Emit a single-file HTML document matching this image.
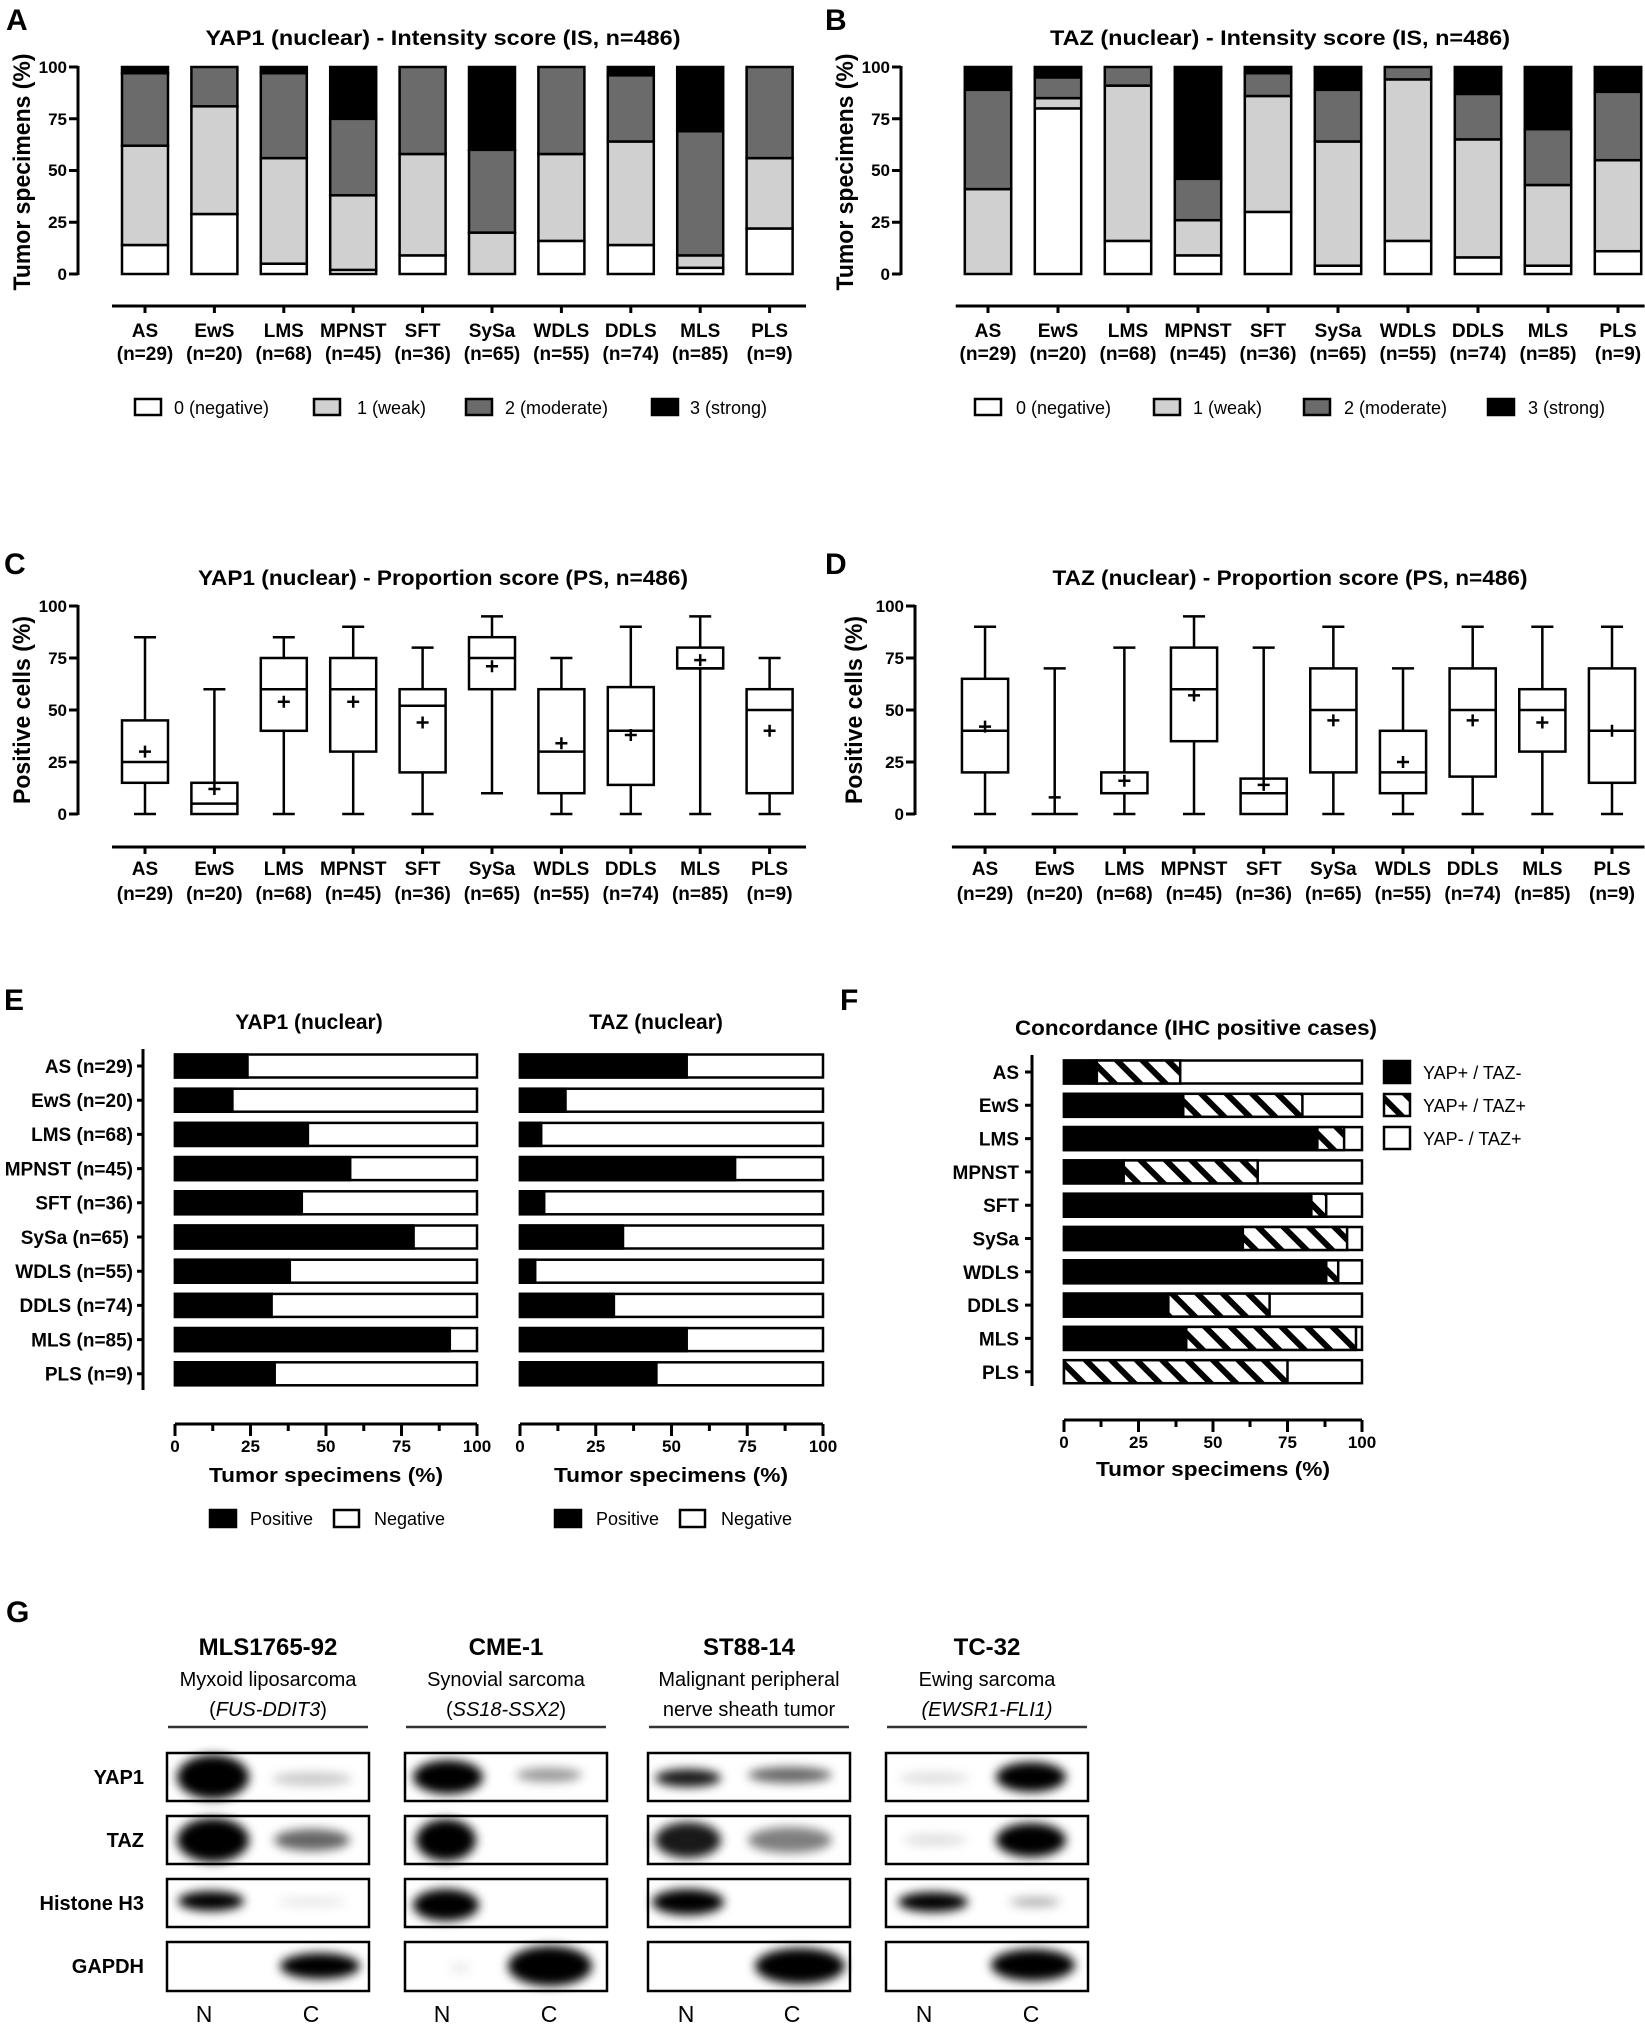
<!DOCTYPE html>
<html><head><meta charset="utf-8"><style>
html,body{margin:0;padding:0;background:#fff}
svg{display:block}
text{font-family:"Liberation Sans",Arial,sans-serif;fill:#000}
.b{font-weight:bold}
.t{font-weight:bold;font-size:21px}
.tk{font-weight:bold;font-size:17px}
.cl{font-weight:bold;font-size:19px;text-anchor:middle}
.lg{font-size:18px}
.ax{stroke:#000;stroke-width:3;fill:none}
.bx rect{stroke:#000;stroke-width:2.5}
.bp path,.bp rect,.bp line{stroke:#000;stroke-width:2.5;fill:none}
.bp rect{fill:#fff}
.w{fill:#fff}.l{fill:#d0d0d0}.d{fill:#6b6b6b}.k{fill:#000}
</style></head><body>
<svg width="1645" height="2029" viewBox="0 0 1645 2029" xmlns="http://www.w3.org/2000/svg">
<defs>
<pattern id="h" patternUnits="userSpaceOnUse" width="18" height="18" patternTransform="rotate(-45)"><rect width="18" height="18" fill="#fff"/><line x1="4" y1="0" x2="4" y2="18" stroke="#000" stroke-width="6"/></pattern>
<filter id="bl" x="-50%" y="-50%" width="200%" height="200%"><feGaussianBlur stdDeviation="5"/></filter>
</defs>

<text x="6" y="30" class="b" font-size="30">A</text>
<text x="825" y="30" class="b" font-size="30">B</text>
<text x="4" y="574" class="b" font-size="30">C</text>
<text x="825" y="574" class="b" font-size="30">D</text>
<text x="4" y="1010" class="b" font-size="30">E</text>
<text x="840" y="1010" class="b" font-size="30">F</text>
<text x="6" y="1622" class="b" font-size="30">G</text>

<!-- ===== Panel A ===== -->
<text x="443" y="45" class="t" text-anchor="middle" textLength="475" lengthAdjust="spacingAndGlyphs">YAP1 (nuclear) - Intensity score (IS, n=486)</text>
<text transform="translate(30,172) rotate(-90)" class="b" font-size="24" text-anchor="middle" textLength="237" lengthAdjust="spacingAndGlyphs">Tumor specimens (%)</text>
<path class="ax" d="M78 66V275M69 274H78M69 222.3H78M69 170.5H78M69 118.8H78M69 67H78"/>
<g class="tk" text-anchor="end"><text x="67" y="280">0</text><text x="67" y="228">25</text><text x="67" y="176">50</text><text x="67" y="125">75</text><text x="67" y="73">100</text></g>
<g class="bx">
<rect class="w" x="122" y="245" width="46" height="29"/><rect class="l" x="122" y="145.7" width="46" height="99.3"/><rect class="d" x="122" y="73.2" width="46" height="72.5"/><rect class="k" x="122" y="67" width="46" height="6.2"/>
<rect class="w" x="191.4" y="214" width="46" height="60"/><rect class="l" x="191.4" y="106.3" width="46" height="107.7"/><rect class="d" x="191.4" y="67" width="46" height="39.3"/>
<rect class="w" x="260.8" y="263.7" width="46" height="10.3"/><rect class="l" x="260.8" y="158.1" width="46" height="105.6"/><rect class="d" x="260.8" y="73.2" width="46" height="84.9"/><rect class="k" x="260.8" y="67" width="46" height="6.2"/>
<rect class="w" x="330.2" y="269.9" width="46" height="4.1"/><rect class="l" x="330.2" y="195.3" width="46" height="74.6"/><rect class="d" x="330.2" y="118.8" width="46" height="76.5"/><rect class="k" x="330.2" y="67" width="46" height="51.8"/>
<rect class="w" x="399.6" y="255.4" width="46" height="18.6"/><rect class="l" x="399.6" y="154" width="46" height="101.4"/><rect class="d" x="399.6" y="67" width="46" height="87"/>
<rect class="l" x="469" y="232.6" width="46" height="41.4"/><rect class="d" x="469" y="149.8" width="46" height="82.8"/><rect class="k" x="469" y="67" width="46" height="82.8"/>
<rect class="w" x="538.4" y="240.9" width="46" height="33.1"/><rect class="l" x="538.4" y="154" width="46" height="86.9"/><rect class="d" x="538.4" y="67" width="46" height="87"/>
<rect class="w" x="607.8" y="245" width="46" height="29"/><rect class="l" x="607.8" y="141.5" width="46" height="103.5"/><rect class="d" x="607.8" y="75.3" width="46" height="66.2"/><rect class="k" x="607.8" y="67" width="46" height="8.3"/>
<rect class="w" x="677.2" y="267.8" width="46" height="6.2"/><rect class="l" x="677.2" y="255.4" width="46" height="12.4"/><rect class="d" x="677.2" y="131.2" width="46" height="124.2"/><rect class="k" x="677.2" y="67" width="46" height="64.2"/>
<rect class="w" x="746.6" y="228.5" width="46" height="45.5"/><rect class="l" x="746.6" y="158.1" width="46" height="70.4"/><rect class="d" x="746.6" y="67" width="46" height="91.1"/>
</g>
<path class="ax" d="M112 306H806M145 306V313M214.4 306V313M283.8 306V313M353.2 306V313M422.6 306V313M492 306V313M561.4 306V313M630.8 306V313M700.2 306V313M769.6 306V313"/>
<g class="cl">
<text x="145" y="337">AS</text><text x="214.4" y="337">EwS</text><text x="283.8" y="337">LMS</text><text x="353.2" y="337">MPNST</text><text x="422.6" y="337">SFT</text><text x="492" y="337">SySa</text><text x="561.4" y="337">WDLS</text><text x="630.8" y="337">DDLS</text><text x="700.2" y="337">MLS</text><text x="769.6" y="337">PLS</text>
<text x="145" y="360">(n=29)</text><text x="214.4" y="360">(n=20)</text><text x="283.8" y="360">(n=68)</text><text x="353.2" y="360">(n=45)</text><text x="422.6" y="360">(n=36)</text><text x="492" y="360">(n=65)</text><text x="561.4" y="360">(n=55)</text><text x="630.8" y="360">(n=74)</text><text x="700.2" y="360">(n=85)</text><text x="769.6" y="360">(n=9)</text>
</g>
<g class="bx"><rect class="w" x="135" y="399" width="26" height="16"/><rect class="l" x="314" y="399" width="26" height="16"/><rect class="d" x="466" y="399" width="26" height="16"/><rect class="k" x="652" y="399" width="26" height="16"/></g>
<g class="lg"><text x="174" y="414">0 (negative)</text><text x="357" y="414">1 (weak)</text><text x="505" y="414">2 (moderate)</text><text x="690" y="414">3 (strong)</text></g>

<!-- ===== Panel B ===== -->
<text x="1280" y="45" class="t" text-anchor="middle" textLength="460" lengthAdjust="spacingAndGlyphs">TAZ (nuclear) - Intensity score (IS, n=486)</text>
<text transform="translate(853,172) rotate(-90)" class="b" font-size="24" text-anchor="middle" textLength="237" lengthAdjust="spacingAndGlyphs">Tumor specimens (%)</text>
<path class="ax" d="M901 66V275M892 274H901M892 222.3H901M892 170.5H901M892 118.8H901M892 67H901"/>
<g class="tk" text-anchor="end"><text x="890" y="280">0</text><text x="890" y="228">25</text><text x="890" y="176">50</text><text x="890" y="125">75</text><text x="890" y="73">100</text></g>
<g transform="matrix(1.00865,0,0,1,-3.5,0)">
<g class="bx">
<rect class="l" x="960" y="189.1" width="46" height="84.9"/><rect class="d" x="960" y="89.8" width="46" height="99.3"/><rect class="k" x="960" y="67" width="46" height="22.8"/>
<rect class="w" x="1029.4" y="108.4" width="46" height="165.6"/><rect class="l" x="1029.4" y="98.1" width="46" height="10.3"/><rect class="d" x="1029.4" y="77.4" width="46" height="20.7"/><rect class="k" x="1029.4" y="67" width="46" height="10.4"/>
<rect class="w" x="1098.8" y="240.9" width="46" height="33.1"/><rect class="l" x="1098.8" y="85.6" width="46" height="155.3"/><rect class="d" x="1098.8" y="67" width="46" height="18.6"/>
<rect class="w" x="1168.2" y="255.4" width="46" height="18.6"/><rect class="l" x="1168.2" y="220.2" width="46" height="35.2"/><rect class="d" x="1168.2" y="178.8" width="46" height="41.4"/><rect class="k" x="1168.2" y="67" width="46" height="111.8"/>
<rect class="w" x="1237.6" y="211.9" width="46" height="62.1"/><rect class="l" x="1237.6" y="96" width="46" height="115.9"/><rect class="d" x="1237.6" y="73.2" width="46" height="22.8"/><rect class="k" x="1237.6" y="67" width="46" height="6.2"/>
<rect class="w" x="1307" y="265.7" width="46" height="8.3"/><rect class="l" x="1307" y="141.5" width="46" height="124.2"/><rect class="d" x="1307" y="89.8" width="46" height="51.7"/><rect class="k" x="1307" y="67" width="46" height="22.8"/>
<rect class="w" x="1376.4" y="240.9" width="46" height="33.1"/><rect class="l" x="1376.4" y="79.4" width="46" height="161.5"/><rect class="d" x="1376.4" y="67" width="46" height="12.4"/>
<rect class="w" x="1445.8" y="257.4" width="46" height="16.6"/><rect class="l" x="1445.8" y="139.4" width="46" height="118"/><rect class="d" x="1445.8" y="93.9" width="46" height="45.5"/><rect class="k" x="1445.8" y="67" width="46" height="26.9"/>
<rect class="w" x="1515.2" y="265.7" width="46" height="8.3"/><rect class="l" x="1515.2" y="185" width="46" height="80.7"/><rect class="d" x="1515.2" y="129.1" width="46" height="55.9"/><rect class="k" x="1515.2" y="67" width="46" height="62.1"/>
<rect class="w" x="1584.6" y="251.2" width="46" height="22.8"/><rect class="l" x="1584.6" y="160.2" width="46" height="91"/><rect class="d" x="1584.6" y="91.8" width="46" height="68.4"/><rect class="k" x="1584.6" y="67" width="46" height="24.8"/>
</g>
<path class="ax" d="M951 306H1634M983 306V313M1052.4 306V313M1121.8 306V313M1191.2 306V313M1260.6 306V313M1330 306V313M1399.4 306V313M1468.8 306V313M1538.2 306V313M1607.6 306V313"/>
<g class="cl">
<text x="983" y="337">AS</text><text x="1052.4" y="337">EwS</text><text x="1121.8" y="337">LMS</text><text x="1191.2" y="337">MPNST</text><text x="1260.6" y="337">SFT</text><text x="1330" y="337">SySa</text><text x="1399.4" y="337">WDLS</text><text x="1468.8" y="337">DDLS</text><text x="1538.2" y="337">MLS</text><text x="1607.6" y="337">PLS</text>
<text x="983" y="360">(n=29)</text><text x="1052.4" y="360">(n=20)</text><text x="1121.8" y="360">(n=68)</text><text x="1191.2" y="360">(n=45)</text><text x="1260.6" y="360">(n=36)</text><text x="1330" y="360">(n=65)</text><text x="1399.4" y="360">(n=55)</text><text x="1468.8" y="360">(n=74)</text><text x="1538.2" y="360">(n=85)</text><text x="1607.6" y="360">(n=9)</text>
</g>
</g>
<g class="bx"><rect class="w" x="975" y="399" width="26" height="16"/><rect class="l" x="1154" y="399" width="26" height="16"/><rect class="d" x="1304" y="399" width="26" height="16"/><rect class="k" x="1488" y="399" width="26" height="16"/></g>
<g class="lg"><text x="1016" y="414">0 (negative)</text><text x="1193" y="414">1 (weak)</text><text x="1344" y="414">2 (moderate)</text><text x="1528" y="414">3 (strong)</text></g>

<!-- ===== Panel C ===== -->
<text x="443" y="585" class="t" text-anchor="middle" textLength="490" lengthAdjust="spacingAndGlyphs">YAP1 (nuclear) - Proportion score (PS, n=486)</text>
<text transform="translate(30,710) rotate(-90)" class="b" font-size="24" text-anchor="middle" textLength="188" lengthAdjust="spacingAndGlyphs">Positive cells (%)</text>
<path class="ax" d="M78 605V815M69 814H78M69 762H78M69 710H78M69 658H78M69 606H78"/>
<g class="tk" text-anchor="end"><text x="67" y="820">0</text><text x="67" y="768">25</text><text x="67" y="716">50</text><text x="67" y="664">75</text><text x="67" y="612">100</text></g>
<g class="bp">
<path d="M145 814V782.8M145 720.4V637.2M134 814H156M134 637.2H156"/><rect x="122" y="720.4" width="46" height="62.4"/><path d="M122 762H168M139 751.6H151M145 745.6V757.6"/>
<path d="M214.4 782.8V689.2M203.4 689.2H225.4"/><rect x="191.4" y="782.8" width="46" height="31.2"/><path d="M191.4 803.6H237.4M208.4 789H220.4M214.4 783V795"/>
<path d="M283.8 814V730.8M283.8 658V637.2M272.8 814H294.8M272.8 637.2H294.8"/><rect x="260.8" y="658" width="46" height="72.8"/><path d="M260.8 689.2H306.8M277.8 701.7H289.8M283.8 695.7V707.7"/>
<path d="M353.2 814V751.6M353.2 658V626.8M342.2 814H364.2M342.2 626.8H364.2"/><rect x="330.2" y="658" width="46" height="93.6"/><path d="M330.2 689.2H376.2M347.2 701.7H359.2M353.2 695.7V707.7"/>
<path d="M422.6 814V772.4M422.6 689.2V647.6M411.6 814H433.6M411.6 647.6H433.6"/><rect x="399.6" y="689.2" width="46" height="83.2"/><path d="M399.6 705.8H445.6M416.6 722.5H428.6M422.6 716.5V728.5"/>
<path d="M492 793.2V689.2M492 637.2V616.4M481 793.2H503M481 616.4H503"/><rect x="469" y="637.2" width="46" height="52"/><path d="M469 658H515M486 666.3H498M492 660.3V672.3"/>
<path d="M561.4 814V793.2M561.4 689.2V658M550.4 814H572.4M550.4 658H572.4"/><rect x="538.4" y="689.2" width="46" height="104"/><path d="M538.4 751.6H584.4M555.4 743.3H567.4M561.4 737.3V749.3"/>
<path d="M630.8 814V784.9M630.8 687.1V626.8M619.8 814H641.8M619.8 626.8H641.8"/><rect x="607.8" y="687.1" width="46" height="97.8"/><path d="M607.8 730.8H653.8M624.8 735H636.8M630.8 729V741"/>
<path d="M700.2 814V668.4M700.2 647.6V616.4M689.2 814H711.2M689.2 616.4H711.2"/><rect x="677.2" y="647.6" width="46" height="20.8"/><path d="M677.2 668.4H723.2M694.2 660.1H706.2M700.2 654.1V666.1"/>
<path d="M769.6 814V793.2M769.6 689.2V658M758.6 814H780.6M758.6 658H780.6"/><rect x="746.6" y="689.2" width="46" height="104"/><path d="M746.6 710H792.6M763.6 730.8H775.6M769.6 724.8V736.8"/>
</g>
<path class="ax" d="M112 847H806M145 847V854M214.4 847V854M283.8 847V854M353.2 847V854M422.6 847V854M492 847V854M561.4 847V854M630.8 847V854M700.2 847V854M769.6 847V854"/>
<g class="cl">
<text x="145" y="875">AS</text><text x="214.4" y="875">EwS</text><text x="283.8" y="875">LMS</text><text x="353.2" y="875">MPNST</text><text x="422.6" y="875">SFT</text><text x="492" y="875">SySa</text><text x="561.4" y="875">WDLS</text><text x="630.8" y="875">DDLS</text><text x="700.2" y="875">MLS</text><text x="769.6" y="875">PLS</text>
<text x="145" y="900">(n=29)</text><text x="214.4" y="900">(n=20)</text><text x="283.8" y="900">(n=68)</text><text x="353.2" y="900">(n=45)</text><text x="422.6" y="900">(n=36)</text><text x="492" y="900">(n=65)</text><text x="561.4" y="900">(n=55)</text><text x="630.8" y="900">(n=74)</text><text x="700.2" y="900">(n=85)</text><text x="769.6" y="900">(n=9)</text>
</g>

<!-- ===== Panel D ===== -->
<text x="1290" y="585" class="t" text-anchor="middle" textLength="475" lengthAdjust="spacingAndGlyphs">TAZ (nuclear) - Proportion score (PS, n=486)</text>
<text transform="translate(862,710) rotate(-90)" class="b" font-size="24" text-anchor="middle" textLength="188" lengthAdjust="spacingAndGlyphs">Positive cells (%)</text>
<path class="ax" d="M915 605V815M906 814H915M906 762H915M906 710H915M906 658H915M906 606H915"/>
<g class="tk" text-anchor="end"><text x="904" y="820">0</text><text x="904" y="768">25</text><text x="904" y="716">50</text><text x="904" y="664">75</text><text x="904" y="612">100</text></g>
<g transform="matrix(1.0038,0,0,1,-1.7,0)">
<g class="bp">
<path d="M983 814V772.4M983 678.8V626.8M972 814H994M972 626.8H994"/><rect x="960" y="678.8" width="46" height="93.6"/><path d="M960 730.8H1006M977 726.6H989M983 720.6V732.6"/>
<path d="M1052.4 814V668.4M1041.4 668.4H1063.4M1029.4 814H1075.4M1046.4 797.4H1058.4M1052.4 791.4V803.4"/>
<path d="M1121.8 814V793.2M1121.8 772.4V647.6M1110.8 814H1132.8M1110.8 647.6H1132.8"/><rect x="1098.8" y="772.4" width="46" height="20.8"/><path d="M1098.8 793.2H1144.8M1115.8 780.7H1127.8M1121.8 774.7V786.7"/>
<path d="M1191.2 814V741.2M1191.2 647.6V616.4M1180.2 814H1202.2M1180.2 616.4H1202.2"/><rect x="1168.2" y="647.6" width="46" height="93.6"/><path d="M1168.2 689.2H1214.2M1185.2 695.4H1197.2M1191.2 689.4V701.4"/>
<path d="M1260.6 778.6V647.6M1249.6 647.6H1271.6"/><rect x="1237.6" y="778.6" width="46" height="35.4"/><path d="M1237.6 793.2H1283.6M1254.6 784.9H1266.6M1260.6 778.9V790.9"/>
<path d="M1330 814V772.4M1330 668.4V626.8M1319 814H1341M1319 626.8H1341"/><rect x="1307" y="668.4" width="46" height="104"/><path d="M1307 710H1353M1324 720.4H1336M1330 714.4V726.4"/>
<path d="M1399.4 814V793.2M1399.4 730.8V668.4M1388.4 814H1410.4M1388.4 668.4H1410.4"/><rect x="1376.4" y="730.8" width="46" height="62.4"/><path d="M1376.4 772.4H1422.4M1393.4 762H1405.4M1399.4 756V768"/>
<path d="M1468.8 814V776.6M1468.8 668.4V626.8M1457.8 814H1479.8M1457.8 626.8H1479.8"/><rect x="1445.8" y="668.4" width="46" height="108.2"/><path d="M1445.8 710H1491.8M1462.8 720.4H1474.8M1468.8 714.4V726.4"/>
<path d="M1538.2 814V751.6M1538.2 689.2V626.8M1527.2 814H1549.2M1527.2 626.8H1549.2"/><rect x="1515.2" y="689.2" width="46" height="62.4"/><path d="M1515.2 710H1561.2M1532.2 722.5H1544.2M1538.2 716.5V728.5"/>
<path d="M1607.6 814V782.8M1607.6 668.4V626.8M1596.6 814H1618.6M1596.6 626.8H1618.6"/><rect x="1584.6" y="668.4" width="46" height="114.4"/><path d="M1584.6 730.8H1630.6M1601.6 730.8H1613.6M1607.6 724.8V736.8"/>
</g>
<path class="ax" d="M950 847H1640M983 847V854M1052.4 847V854M1121.8 847V854M1191.2 847V854M1260.6 847V854M1330 847V854M1399.4 847V854M1468.8 847V854M1538.2 847V854M1607.6 847V854"/>
<g class="cl">
<text x="983" y="875">AS</text><text x="1052.4" y="875">EwS</text><text x="1121.8" y="875">LMS</text><text x="1191.2" y="875">MPNST</text><text x="1260.6" y="875">SFT</text><text x="1330" y="875">SySa</text><text x="1399.4" y="875">WDLS</text><text x="1468.8" y="875">DDLS</text><text x="1538.2" y="875">MLS</text><text x="1607.6" y="875">PLS</text>
<text x="983" y="900">(n=29)</text><text x="1052.4" y="900">(n=20)</text><text x="1121.8" y="900">(n=68)</text><text x="1191.2" y="900">(n=45)</text><text x="1260.6" y="900">(n=36)</text><text x="1330" y="900">(n=65)</text><text x="1399.4" y="900">(n=55)</text><text x="1468.8" y="900">(n=74)</text><text x="1538.2" y="900">(n=85)</text><text x="1607.6" y="900">(n=9)</text>
</g>
</g>

<!-- ===== Panel E ===== -->
<text x="309" y="1029" class="t" text-anchor="middle">YAP1 (nuclear)</text>
<text x="656" y="1029" class="t" text-anchor="middle">TAZ (nuclear)</text>
<path class="ax" d="M143 1049V1390M137 1066H143M137 1100.2H143M137 1134.4H143M137 1168.6H143M137 1202.8H143M137 1237H143M137 1271.2H143M137 1305.4H143M137 1339.6H143M137 1373.8H143"/>
<g class="b" font-size="19" text-anchor="end">
<text x="133" y="1073">AS (n=29)</text><text x="133" y="1107">EwS (n=20)</text><text x="133" y="1141">LMS (n=68)</text><text x="133" y="1175.5">MPNST (n=45)</text><text x="133" y="1209.5">SFT (n=36)</text><text x="129" y="1244">SySa (n=65)</text><text x="133" y="1278">WDLS (n=55)</text><text x="133" y="1312">DDLS (n=74)</text><text x="133" y="1346.5">MLS (n=85)</text><text x="133" y="1380.5">PLS (n=9)</text>
</g>
<g class="bx">
<rect class="w" x="175" y="1054.5" width="302" height="23"/><rect class="k" x="175" y="1054.5" width="72.5" height="23"/>
<rect class="w" x="175" y="1088.7" width="302" height="23"/><rect class="k" x="175" y="1088.7" width="57.4" height="23"/>
<rect class="w" x="175" y="1122.9" width="302" height="23"/><rect class="k" x="175" y="1122.9" width="132.9" height="23"/>
<rect class="w" x="175" y="1157.1" width="302" height="23"/><rect class="k" x="175" y="1157.1" width="175.2" height="23"/>
<rect class="w" x="175" y="1191.3" width="302" height="23"/><rect class="k" x="175" y="1191.3" width="126.8" height="23"/>
<rect class="w" x="175" y="1225.5" width="302" height="23"/><rect class="k" x="175" y="1225.5" width="238.6" height="23"/>
<rect class="w" x="175" y="1259.7" width="302" height="23"/><rect class="k" x="175" y="1259.7" width="114.8" height="23"/>
<rect class="w" x="175" y="1293.9" width="302" height="23"/><rect class="k" x="175" y="1293.9" width="96.6" height="23"/>
<rect class="w" x="175" y="1328.1" width="302" height="23"/><rect class="k" x="175" y="1328.1" width="274.8" height="23"/>
<rect class="w" x="175" y="1362.3" width="302" height="23"/><rect class="k" x="175" y="1362.3" width="99.7" height="23"/>
<rect class="w" x="520" y="1054.5" width="303" height="23"/><rect class="k" x="520" y="1054.5" width="166.7" height="23"/>
<rect class="w" x="520" y="1088.7" width="303" height="23"/><rect class="k" x="520" y="1088.7" width="45.5" height="23"/>
<rect class="w" x="520" y="1122.9" width="303" height="23"/><rect class="k" x="520" y="1122.9" width="21.2" height="23"/>
<rect class="w" x="520" y="1157.1" width="303" height="23"/><rect class="k" x="520" y="1157.1" width="215.1" height="23"/>
<rect class="w" x="520" y="1191.3" width="303" height="23"/><rect class="k" x="520" y="1191.3" width="24.2" height="23"/>
<rect class="w" x="520" y="1225.5" width="303" height="23"/><rect class="k" x="520" y="1225.5" width="103" height="23"/>
<rect class="w" x="520" y="1259.7" width="303" height="23"/><rect class="k" x="520" y="1259.7" width="15.2" height="23"/>
<rect class="w" x="520" y="1293.9" width="303" height="23"/><rect class="k" x="520" y="1293.9" width="93.9" height="23"/>
<rect class="w" x="520" y="1328.1" width="303" height="23"/><rect class="k" x="520" y="1328.1" width="166.7" height="23"/>
<rect class="w" x="520" y="1362.3" width="303" height="23"/><rect class="k" x="520" y="1362.3" width="136.4" height="23"/>
</g>
<path class="ax" d="M175 1424H477M175 1424V1436M250.5 1424V1436M326 1424V1436M401.5 1424V1436M477 1424V1436M212.75 1424V1431M288.25 1424V1431M363.75 1424V1431M439.25 1424V1431"/>
<path class="ax" d="M520 1424H823M520 1424V1436M595.75 1424V1436M671.5 1424V1436M747.25 1424V1436M823 1424V1436M557.9 1424V1431M633.6 1424V1431M709.4 1424V1431M785.1 1424V1431"/>
<g class="tk" text-anchor="middle">
<text x="175" y="1452">0</text><text x="250.5" y="1452">25</text><text x="326" y="1452">50</text><text x="401.5" y="1452">75</text><text x="477" y="1452">100</text>
<text x="520" y="1452">0</text><text x="595.75" y="1452">25</text><text x="671.5" y="1452">50</text><text x="747.25" y="1452">75</text><text x="823" y="1452">100</text>
</g>
<text x="326" y="1482" class="b" font-size="20" text-anchor="middle" textLength="234" lengthAdjust="spacingAndGlyphs">Tumor specimens (%)</text>
<text x="671" y="1482" class="b" font-size="20" text-anchor="middle" textLength="234" lengthAdjust="spacingAndGlyphs">Tumor specimens (%)</text>
<g class="bx"><rect class="k" x="210" y="1510" width="26" height="17"/><rect class="w" x="334" y="1510" width="25" height="17"/><rect class="k" x="555" y="1510" width="26" height="17"/><rect class="w" x="680" y="1510" width="25" height="17"/></g>
<g class="lg"><text x="250" y="1525">Positive</text><text x="374" y="1525">Negative</text><text x="596" y="1525">Positive</text><text x="721" y="1525">Negative</text></g>

<!-- ===== Panel F ===== -->
<text x="1196" y="1035" class="t" text-anchor="middle" textLength="362" lengthAdjust="spacingAndGlyphs">Concordance (IHC positive cases)</text>
<path class="ax" d="M1032 1055V1386M1025 1072H1032M1025 1105.3H1032M1025 1138.6H1032M1025 1171.9H1032M1025 1205.2H1032M1025 1238.5H1032M1025 1271.8H1032M1025 1305.1H1032M1025 1338.4H1032M1025 1371.7H1032"/>
<g class="b" font-size="19" text-anchor="end">
<text x="1019" y="1079">AS</text><text x="1019" y="1112">EwS</text><text x="1019" y="1145.5">LMS</text><text x="1019" y="1179">MPNST</text><text x="1019" y="1212">SFT</text><text x="1019" y="1245.5">SySa</text><text x="1019" y="1279">WDLS</text><text x="1019" y="1312">DDLS</text><text x="1019" y="1345.5">MLS</text><text x="1019" y="1379">PLS</text>
</g>
<g class="bx">
<rect class="w" x="1064" y="1060.5" width="298" height="23"/><rect fill="url(#h)" x="1096.8" y="1060.5" width="83.4" height="23"/><rect class="k" x="1064" y="1060.5" width="32.8" height="23"/>
<rect class="w" x="1064" y="1093.8" width="298" height="23"/><rect fill="url(#h)" x="1183.2" y="1093.8" width="119.2" height="23"/><rect class="k" x="1064" y="1093.8" width="119.2" height="23"/>
<rect class="w" x="1064" y="1127.1" width="298" height="23"/><rect fill="url(#h)" x="1317.3" y="1127.1" width="26.8" height="23"/><rect class="k" x="1064" y="1127.1" width="253.3" height="23"/>
<rect class="w" x="1064" y="1160.4" width="298" height="23"/><rect fill="url(#h)" x="1123.6" y="1160.4" width="134.1" height="23"/><rect class="k" x="1064" y="1160.4" width="59.6" height="23"/>
<rect class="w" x="1064" y="1193.7" width="298" height="23"/><rect fill="url(#h)" x="1311.3" y="1193.7" width="14.9" height="23"/><rect class="k" x="1064" y="1193.7" width="247.3" height="23"/>
<rect class="w" x="1064" y="1227" width="298" height="23"/><rect fill="url(#h)" x="1242.8" y="1227" width="104.3" height="23"/><rect class="k" x="1064" y="1227" width="178.8" height="23"/>
<rect class="w" x="1064" y="1260.3" width="298" height="23"/><rect fill="url(#h)" x="1326.2" y="1260.3" width="12" height="23"/><rect class="k" x="1064" y="1260.3" width="262.2" height="23"/>
<rect class="w" x="1064" y="1293.6" width="298" height="23"/><rect fill="url(#h)" x="1168.3" y="1293.6" width="101.3" height="23"/><rect class="k" x="1064" y="1293.6" width="104.3" height="23"/>
<rect class="w" x="1064" y="1326.9" width="298" height="23"/><rect fill="url(#h)" x="1186.2" y="1326.9" width="169.8" height="23"/><rect class="k" x="1064" y="1326.9" width="122.2" height="23"/>
<rect class="w" x="1064" y="1360.2" width="298" height="23"/><rect fill="url(#h)" x="1064" y="1360.2" width="223.5" height="23"/>
</g>
<path class="ax" d="M1064 1420H1362M1064 1420V1432M1138.5 1420V1432M1213 1420V1432M1287.5 1420V1432M1362 1420V1432M1101 1420V1427M1176 1420V1427M1250 1420V1427M1325 1420V1427"/>
<g class="tk" text-anchor="middle"><text x="1064" y="1448">0</text><text x="1138.5" y="1448">25</text><text x="1213" y="1448">50</text><text x="1287.5" y="1448">75</text><text x="1362" y="1448">100</text></g>
<text x="1213" y="1476" class="b" font-size="20" text-anchor="middle" textLength="234" lengthAdjust="spacingAndGlyphs">Tumor specimens (%)</text>
<g class="bx"><rect class="k" x="1384" y="1061" width="26" height="22"/><rect fill="url(#h)" x="1384" y="1094" width="26" height="22"/><rect class="w" x="1384" y="1127" width="26" height="22"/></g>
<g class="lg"><text x="1423" y="1079">YAP+ / TAZ-</text><text x="1423" y="1112">YAP+ / TAZ+</text><text x="1423" y="1145">YAP- / TAZ+</text></g>

<!-- ===== Panel G ===== -->
<g class="b" font-size="24" text-anchor="middle">
<text x="268" y="1655">MLS1765-92</text><text x="506" y="1655">CME-1</text><text x="749" y="1655">ST88-14</text><text x="987" y="1655">TC-32</text>
</g>
<g font-size="20" text-anchor="middle">
<text x="268" y="1686">Myxoid liposarcoma</text><text x="268" y="1716">(<tspan font-style="italic">FUS-DDIT3</tspan>)</text>
<text x="506" y="1686">Synovial sarcoma</text><text x="506" y="1716">(<tspan font-style="italic">SS18-SSX2</tspan>)</text>
<text x="749" y="1686">Malignant peripheral</text><text x="749" y="1716">nerve sheath tumor</text>
<text x="987" y="1686">Ewing sarcoma</text><text x="987" y="1716" font-style="italic">(EWSR1-FLI1)</text>
</g>
<path d="M168 1727H368M406 1727H606M649 1727H849M887 1727H1087" stroke="#333" stroke-width="2.5"/>
<g class="b" font-size="20" text-anchor="end">
<text x="144" y="1784">YAP1</text><text x="144" y="1847">TAZ</text><text x="144" y="1910">Histone H3</text><text x="144" y="1973">GAPDH</text>
</g>
<g filter="url(#bl)">
<ellipse cx="213" cy="1777" rx="36" ry="22" fill="#000"/>
<ellipse cx="312" cy="1779" rx="40" ry="7" fill="#000" opacity="0.2"/>
<ellipse cx="213" cy="1840" rx="36" ry="22" fill="#000"/>
<ellipse cx="312" cy="1840" rx="38" ry="11" fill="#000" opacity="0.6"/>
<ellipse cx="211" cy="1901" rx="33" ry="10" fill="#000"/>
<ellipse cx="312" cy="1902" rx="35" ry="4" fill="#000" opacity="0.1"/>
<ellipse cx="320" cy="1966" rx="40" ry="13" fill="#000"/>
<ellipse cx="448" cy="1777" rx="35" ry="17" fill="#000"/>
<ellipse cx="549" cy="1775" rx="33" ry="7" fill="#000" opacity="0.4"/>
<ellipse cx="446" cy="1840" rx="30" ry="21" fill="#000"/>
<ellipse cx="446" cy="1905" rx="33" ry="16" fill="#000"/>
<ellipse cx="550" cy="1966" rx="42" ry="20" fill="#000"/>
<ellipse cx="460" cy="1968" rx="10" ry="4" fill="#000" opacity="0.1"/>
<ellipse cx="688" cy="1778" rx="33" ry="9" fill="#000" opacity="0.9"/>
<ellipse cx="790" cy="1775" rx="42" ry="8" fill="#000" opacity="0.6"/>
<ellipse cx="688" cy="1840" rx="33" ry="18" fill="#000" opacity="0.9"/>
<ellipse cx="790" cy="1840" rx="42" ry="13" fill="#000" opacity="0.5"/>
<ellipse cx="688" cy="1902" rx="36" ry="13" fill="#000"/>
<ellipse cx="800" cy="1966" rx="45" ry="18" fill="#000"/>
<ellipse cx="934" cy="1778" rx="35" ry="6" fill="#000" opacity="0.12"/>
<ellipse cx="1031" cy="1777" rx="35" ry="15" fill="#000"/>
<ellipse cx="935" cy="1840" rx="32" ry="6" fill="#000" opacity="0.12"/>
<ellipse cx="1031" cy="1840" rx="35" ry="17" fill="#000"/>
<ellipse cx="933" cy="1902" rx="35" ry="10" fill="#000"/>
<ellipse cx="1035" cy="1902" rx="25" ry="5" fill="#000" opacity="0.3"/>
<ellipse cx="1033" cy="1965" rx="42" ry="16" fill="#000"/>
</g>
<g fill="none" stroke="#000" stroke-width="2.5">
<rect x="167" y="1753" width="202" height="48"/><rect x="167" y="1816" width="202" height="48"/><rect x="167" y="1879" width="202" height="48"/><rect x="167" y="1942" width="202" height="49"/>
<rect x="405" y="1753" width="202" height="48"/><rect x="405" y="1816" width="202" height="48"/><rect x="405" y="1879" width="202" height="48"/><rect x="405" y="1942" width="202" height="49"/>
<rect x="648" y="1753" width="202" height="48"/><rect x="648" y="1816" width="202" height="48"/><rect x="648" y="1879" width="202" height="48"/><rect x="648" y="1942" width="202" height="49"/>
<rect x="886" y="1753" width="202" height="48"/><rect x="886" y="1816" width="202" height="48"/><rect x="886" y="1879" width="202" height="48"/><rect x="886" y="1942" width="202" height="49"/>
</g>
<g font-size="23" text-anchor="middle">
<text x="204" y="2022">N</text><text x="311" y="2022">C</text>
<text x="442" y="2022">N</text><text x="549" y="2022">C</text>
<text x="686" y="2022">N</text><text x="792" y="2022">C</text>
<text x="924" y="2022">N</text><text x="1031" y="2022">C</text>
</g>
</svg>
</body></html>
